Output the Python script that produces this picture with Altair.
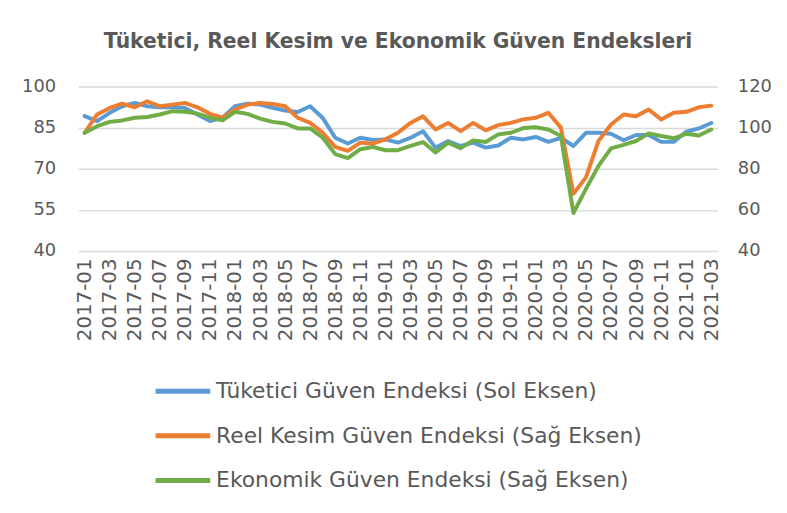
import altair as alt
import pandas as pd

# Monthly categories 2017-01 ... 2021-03
months = [f"{y}-{m:02d}" for y in range(2017, 2022) for m in range(1, 13)][:51]

tuketici = [89.2, 87.4, 90.4, 92.8, 94.0, 92.8, 92.4, 92.4, 92.2, 89.8,
            87.4, 88.6, 92.8, 93.7, 93.4, 92.2, 91.2, 90.7, 92.8, 88.5,
            81.3, 79.2, 81.3, 80.5, 80.7, 79.5, 81.3, 83.7, 77.7, 80.1,
            78.3, 79.5, 77.7, 78.5, 81.3, 80.7, 81.6, 79.8, 81.3, 78.3,
            83.1, 83.1, 82.8, 80.4, 82.3, 82.3, 79.8, 79.8, 83.5, 84.7,
            86.7]

reel = [97.5, 106.4, 109.6, 111.7, 109.9, 112.8, 110.4, 111.2, 112.0, 109.9,
        106.7, 104.8, 108.8, 111.2, 112.0, 111.5, 110.4, 104.8, 102.3, 97.5,
        90.6, 88.7, 92.7, 92.2, 94.3, 97.5, 102.3, 105.5, 99.1, 102.3,
        98.3, 102.3, 98.7, 101.2, 102.3, 104.0, 104.8, 107.2, 100.0, 67.8,
        75.8, 93.5, 101.5, 106.4, 105.5, 108.8, 104.0, 107.2, 107.7, 109.9,
        110.7]

ekonomik = [97.5, 100.7, 102.8, 103.5, 104.8, 105.2, 106.4, 108.0, 107.7, 106.8,
            104.8, 103.5, 107.7, 106.7, 104.4, 102.8, 102.0, 99.6, 99.6, 95.1,
            87.1, 85.2, 89.5, 90.6, 89.0, 89.0, 91.1, 93.0, 87.9, 92.7,
            90.0, 93.8, 93.0, 96.7, 97.5, 99.8, 100.2, 99.1, 95.9, 58.5,
            70.2, 81.4, 89.9, 91.6, 93.5, 97.2, 95.9, 94.8, 97.0, 96.2,
            99.1]

names = ["Tüketici Güven Endeksi (Sol Eksen)",
         "Reel Kesim Güven Endeksi (Sağ Eksen)",
         "Ekonomik Güven Endeksi (Sağ Eksen)"]
colors = ["#5B9BD5", "#ED7D31", "#70AD47"]

left_ticks = [40, 55, 70, 85, 100]
right_ticks = [40, 60, 80, 100, 120]

df_left = pd.DataFrame({"ay": months, "deger": tuketici, "seri": names[0]})
df_right = pd.concat([
    pd.DataFrame({"ay": months, "deger": reel, "seri": names[1]}),
    pd.DataFrame({"ay": months, "deger": ekonomik, "seri": names[2]}),
], ignore_index=True)

FONT = "DejaVu Sans"
GRAY = "#595959"

x_enc = alt.X(
    "ay:O", sort=months,
    scale=alt.Scale(type="point", padding=0.5),
    axis=alt.Axis(values=months[::2], labelAngle=-90, labelFontSize=20,
                  labelColor=GRAY, labelFont=FONT, labelPadding=7,
                  domain=False, ticks=False, grid=False, title=None),
)

color_enc = alt.Color(
    "seri:N",
    scale=alt.Scale(domain=names, range=colors),
    legend=alt.Legend(
        orient="none", legendX=80, legendY=282, direction="vertical",
        title=None, symbolType="M-1.2,0H1.2", symbolSize=2116,
        symbolStrokeWidth=5, labelFontSize=22, labelFont=FONT,
        labelColor=GRAY, labelOffset=8, rowPadding=8, labelLimit=700,
    ),
)

left = alt.Chart(df_left).mark_line(strokeWidth=4, strokeCap="round", strokeJoin="round").encode(
    x=x_enc,
    y=alt.Y("deger:Q", scale=alt.Scale(domain=[40, 100], nice=False, zero=False),
            axis=alt.Axis(orient="left", values=left_ticks, title=None,
                          labelFontSize=18, labelFont=FONT, labelColor=GRAY,
                          labelPadding=23, domain=False, ticks=False,
                          grid=True, gridColor="#D9D9D9", gridWidth=1.5)),
    color=color_enc,
    detail="seri:N",
)

right = alt.Chart(df_right).mark_line(strokeWidth=4, strokeCap="round", strokeJoin="round").encode(
    x=x_enc,
    y=alt.Y("deger:Q", scale=alt.Scale(domain=[40, 120], nice=False, zero=False),
            axis=alt.Axis(orient="right", values=right_ticks, title=None,
                          labelFontSize=18, labelFont=FONT, labelColor=GRAY,
                          labelPadding=20, domain=False, ticks=False, grid=False)),
    color=color_enc,
    detail="seri:N",
)

chart = alt.layer(left, right).resolve_scale(y="independent").properties(
    width=645, height=166,
    autosize=alt.AutoSizeParams(type="none"),
    padding={"left": 71, "top": 77, "right": 62, "bottom": 244},
    title=alt.TitleParams("Tüketici, Reel Kesim ve Ekonomik Güven Endeksleri",
                          anchor="middle", fontSize=20.5, font=FONT,
                          fontWeight="bold", color=GRAY, offset=25),
).configure_view(stroke=None)

chart.save("out.html", embed_options={"renderer": "svg", "actions": False})
